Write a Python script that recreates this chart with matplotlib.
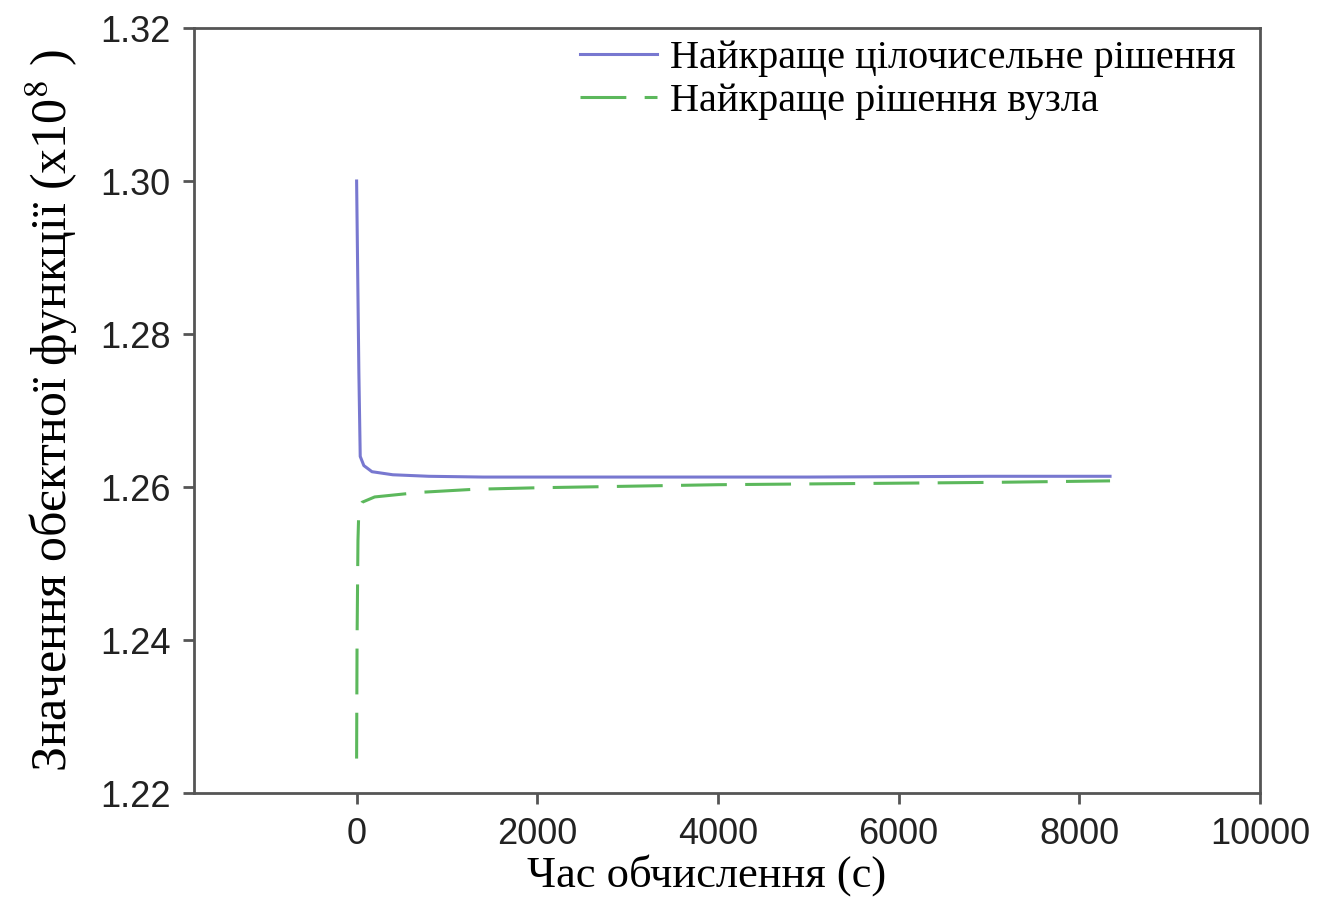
import matplotlib.pyplot as plt
import numpy as np

plt.rcParams['mathtext.fontset'] = 'stix'

# час обчислення, с
timeInteger = [0, 10, 25, 40, 80, 170, 400, 800, 1400, 3000, 5000, 7000, 8340]
bestInteger = [1.3000, 1.2900, 1.2750, 1.2640, 1.2628, 1.2620, 1.2616, 1.2614, 1.2613, 1.2613, 1.2613, 1.2614, 1.2614]

timeNode = [0, 5, 15, 25, 60, 200, 700, 1300, 2000, 3000, 4000, 5000, 6000, 7000, 8340]
bestNode = [1.2245, 1.2400, 1.2530, 1.2572, 1.2580, 1.2587, 1.2593, 1.2597, 1.2599, 1.2601, 1.2603, 1.2604, 1.2605, 1.2606, 1.2608]

labelInteger = "Найкраще цілочисельне рішення"
labelNode = "Найкраще рішення вузла"
xTicks = [0, 2000, 4000, 6000, 8000, 10000]
yTicks = [1.22, 1.24, 1.26, 1.28, 1.30, 1.32]

fig = plt.figure(figsize=(13.36, 9.22), dpi=100)
ax = fig.add_axes([194 / 1336, 1 - 793 / 922, 1066 / 1336, 765 / 922])

ax.plot(timeInteger, bestInteger, color='#7878d0', linewidth=2.2, label=labelInteger)
ax.plot(timeNode, bestNode, color='#5cb85c', linewidth=2.2, dashes=(15, 6), label=labelNode)

ax.set_xlim(-1800, 10000)
ax.set_ylim(1.22, 1.32)
ax.set_xticks(xTicks)
ax.set_yticks(yTicks)
ax.set_yticklabels(["%.2f" % v for v in yTicks])

for spine in ax.spines.values():
    spine.set_color('#555555')
    spine.set_linewidth(2)
ax.tick_params(direction='out', length=8, width=2, color='#555555', pad=9,
               labelsize=26, labelcolor='#222222')
for lbl in ax.get_xticklabels() + ax.get_yticklabels():
    lbl.set_fontfamily('Liberation Sans')

ax.set_xlabel("Час обчислення (с)", fontsize=32, family='Liberation Serif')
ax.set_ylabel("Значення обєктної функції (x10$^{8}$ )", fontsize=36, family='Liberation Serif')
ax.xaxis.set_label_coords(0.481, -0.08)
ax.yaxis.set_label_coords(-0.107, 0.5)

ax.legend(loc='upper left', bbox_to_anchor=((580 - 194) / 1066, 1 - (40 - 28) / 765),
          frameon=False, borderaxespad=0, borderpad=0,
          prop={'family': 'Liberation Serif', 'size': 29},
          handlelength=1.9, handletextpad=0.33, labelspacing=0.15)

fig.savefig('out.png', dpi=100)
